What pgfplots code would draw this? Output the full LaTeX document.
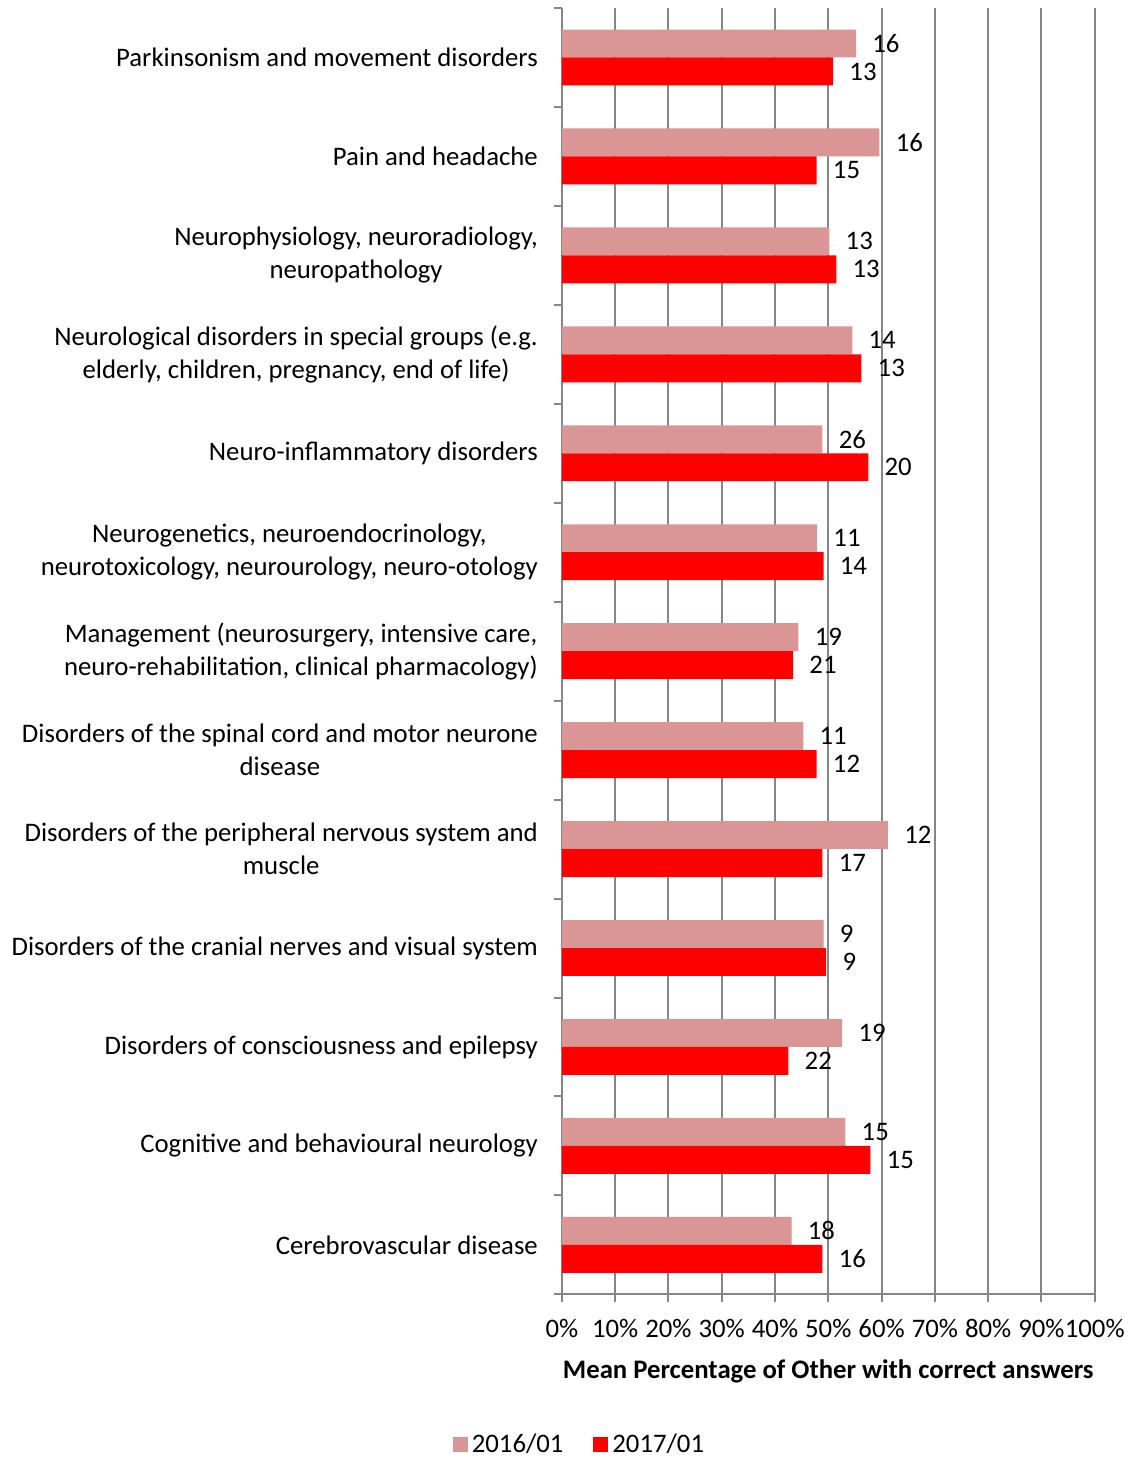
\documentclass[border=0pt]{standalone}
\usepackage{fontspec}
\setmainfont{Carlito}
\usepackage{pgfplots}
\pgfplotsset{compat=1.18}
\usetikzlibrary{calc}
\definecolor{pinkbar}{RGB}{217,150,148}
\definecolor{gridgray}{RGB}{134,134,134}

\begin{document}
\begin{tikzpicture}[font=\fontsize{13.4}{16.5}\selectfont]
\begin{axis}[
    scale only axis,
    width=267pt, height=644.5pt,
    xmin=0, xmax=100,
    ymin=-0.5, ymax=12.5,
    xbar, bar width=14pt,
    axis x line*=bottom, axis y line*=left,
    axis line style={-, draw=gridgray, line width=1pt},
    xtick={0,10,...,100},
    xticklabels={0\%,10\%,20\%,30\%,40\%,50\%,60\%,70\%,80\%,90\%,100\%},
    xticklabel style={yshift=-5pt},
    xmajorgrids,
    major grid style={draw=gridgray, line width=1pt},
    ytick={0,...,12},
    yticklabels={
        Cerebrovascular disease,
        Cognitive and behavioural neurology,
        Disorders of consciousness and epilepsy,
        Disorders of the cranial nerves and visual system,
        {Disorders of the peripheral nervous system and\\muscle},
        {Disorders of the spinal cord and motor neurone\\disease},
        {Management (neurosurgery, intensive care,\\neuro-rehabilitation, clinical pharmacology)},
        {Neurogenetics, neuroendocrinology,\\neurotoxicology, neurourology, neuro-otology},
        Neuro-inflammatory disorders,
        {Neurological disorders in special groups (e.g.\\elderly, children, pregnancy, end of life)},
        {Neurophysiology, neuroradiology,\\neuropathology},
        Pain and headache,
        Parkinsonism and movement disorders},
    yticklabel style={align=center, xshift=-4.5pt},
    minor ytick={-0.5,0.5,...,12.5},
    major y tick style={draw=none},
    tick style={draw=gridgray, line width=1pt},
    major tick length=4pt, minor tick length=4pt,
    tick align=outside,
    xlabel={\bfseries Mean Percentage of Other with correct answers},
    xlabel style={yshift=-4pt},
    nodes near coords,
    point meta=explicit symbolic,
    nodes near coords style={anchor=west, inner sep=0pt, xshift=8pt, text=black},
    legend style={at={(axis description cs:0.035,-0.1165)}, anchor=center,
        legend columns=2, draw=none, inner sep=0pt,
        /tikz/every even column/.append style={column sep=13pt}},
    legend image code/.code={\fill[#1] (0pt,-3.75pt) rectangle (7.5pt,3.75pt);},
]
\addplot[fill=pinkbar, draw=none, bar shift=7pt] table[x=v, y=c, meta=n] {
c v n
12 55.2 16
11 59.6 16
10 50.2 13
9 54.5 14
8 48.9 26
7 47.9 11
6 44.4 19
5 45.3 11
4 61.2 12
3 49.1 9
2 52.6 19
1 53.2 15
0 43.1 18
};
\addlegendentry{2016/01}
\addplot[fill=red, draw=none, bar shift=-7pt] table[x=v, y=c, meta=n] {
c v n
12 50.9 13
11 47.8 15
10 51.5 13
9 56.2 13
8 57.5 20
7 49.1 14
6 43.4 21
5 47.8 12
4 48.9 17
3 49.6 9
2 42.5 22
1 57.9 15
0 48.9 16
};
\addlegendentry{2017/01}
\end{axis}
\path ($(current axis.south west)+(-281.5pt,-81pt)$) rectangle ($(current axis.north east)+(17.5pt,4pt)$);
\end{tikzpicture}
\end{document}
